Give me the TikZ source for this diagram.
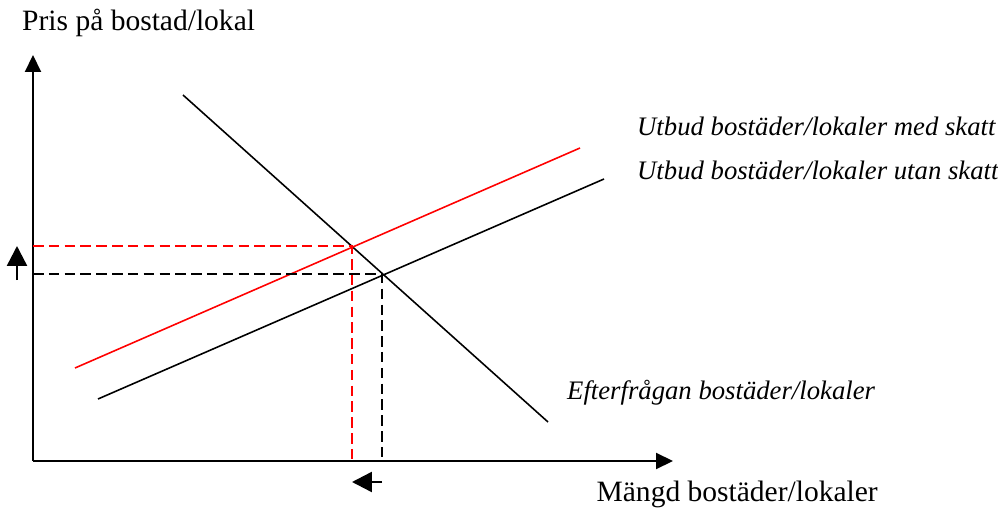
\documentclass[tikz,border=0pt]{standalone}
\usepackage{fontspec}
\setmainfont{Liberation Serif}
\usetikzlibrary{arrows.meta}

\begin{document}
\begin{tikzpicture}[
    x=0.02cm, y=-0.02cm,
    >={Triangle[length=3.4mm, width=3.2mm]},
    every node/.style={font=\fontsize{16.8}{19}\selectfont},
    achse/.style={line width=1.2pt, ->},
    kurve/.style={line width=0.9pt},
    hilfe/.style={line width=0.9pt, dash pattern=on 6pt off 3pt},
    pfeil/.style={line width=1.4pt, -{Triangle[length=4mm, width=4mm]}},
    lbl/.style={font=\fontsize{15.2}{18}\selectfont\itshape, anchor=west}
]
\useasboundingbox (0,0) rectangle (998,510);

% ----------------------------------------------------------
% Achsen
% ----------------------------------------------------------
\coordinate (o) at (33,461);
\coordinate (ytop) at (33,55);
\coordinate (xend) at (673,461);
\draw[achse] (o) -- (ytop);
\draw[achse] (o) -- (xend);
\node[anchor=west] (ylbl) at (16,23) {Pris på bostad/lokal};
\node[anchor=east] (xlbl) at (884,494) {Mängd bostäder/lokaler};

% ----------------------------------------------------------
% Kurven: Efterfragan, Utbud med / utan Skatt
% ----------------------------------------------------------
\draw[kurve] (183,95) -- (548,422);
\draw[kurve, red] (75,368) -- (580,148);
\draw[kurve] (98,399) -- (604,179);

\node[lbl] (med) at (631,126) {Utbud bostäder/lokaler med skatt};
\node[lbl] (utan) at (631,170) {Utbud bostäder/lokaler utan skatt};
\node[lbl] (eft) at (561,393) {Efterfrågan bostäder/lokaler};

% Jamviktspunkter
\coordinate (jr) at (352,246);
\coordinate (js) at (382,274);

% Hilfslinien
\draw[hilfe, red] (o |- jr) -- (jr) -- (jr |- o);
\draw[hilfe] (o |- js) -- (js) -- (js |- o);

% Verschiebungspfeile
\coordinate (pu1) at (17,280);
\coordinate (pu2) at (17,246);
\draw[pfeil] (pu1) -- (pu2);
\coordinate (pl1) at (382,482);
\coordinate (pl2) at (352,482);
\draw[pfeil] (pl1) -- (pl2);

\end{tikzpicture}
\end{document}
